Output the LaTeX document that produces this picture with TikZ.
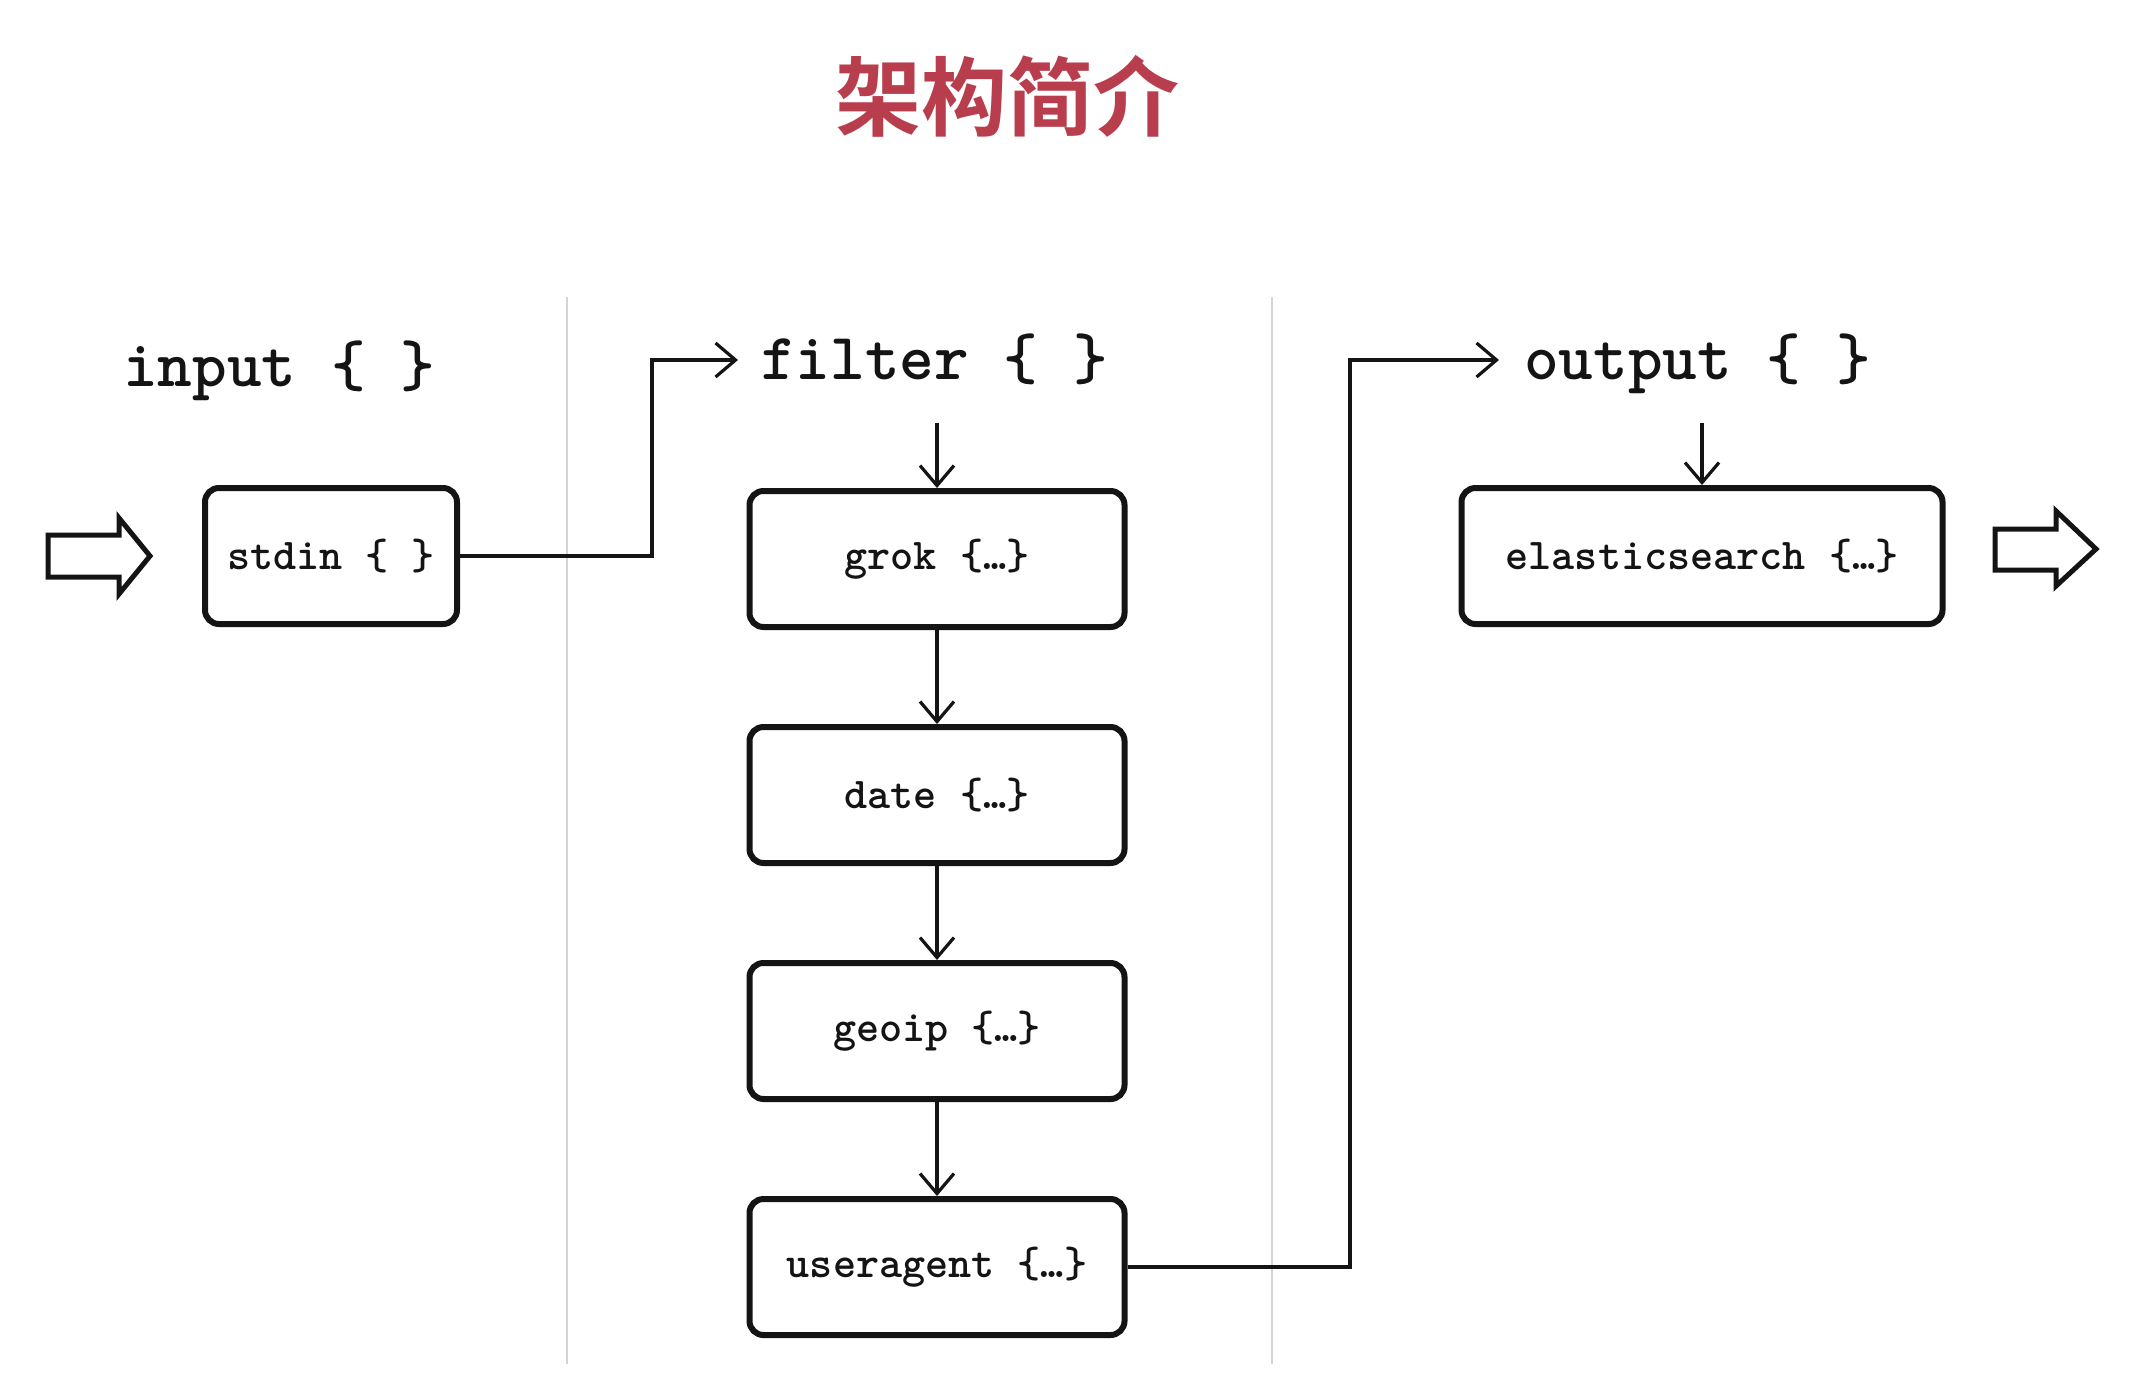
\documentclass[tikz,border=0pt]{standalone}
\usepackage{fontspec}
\newfontfamily\cjk[BoldFont={Noto Sans CJK SC Bold}]{Noto Sans CJK SC}
\usetikzlibrary{arrows.meta}
\definecolor{titlered}{RGB}{184,62,78}
\definecolor{ink}{RGB}{20,20,20}
\definecolor{divider}{RGB}{212,212,212}
\begin{document}
\begin{tikzpicture}[x=1pt,y=-1pt,
  stagebox/.style={draw=ink,line width=6pt,rounded corners=14pt,minimum height=136pt,
    inner sep=0pt,font=\ttfamily\bfseries\fontsize{44}{50}\selectfont,text=ink},
  head/.style={anchor=base west,inner sep=0pt,font=\ttfamily\bfseries\fontsize{66}{72}\selectfont,text=ink},
  conn/.style={draw=ink,line width=3.2pt,-{Straight Barb[length=20pt,width=34pt,line width=3.2pt]}},
  blockarrow/.style={draw=ink,line width=5pt,line join=miter,fill=white},
  sep/.style={draw=divider,line width=2pt}]
\useasboundingbox[fill=white] (0,0) rectangle (2138,1388);

% title
\node[font=\cjk\bfseries\fontsize{86}{90}\selectfont,text=titlered] (title) at (1007,96) {架构简介};

% dividers
\draw[sep] (567,297) -- (567,1364);
\draw[sep] (1272,297) -- (1272,1364);

% headers
\node[head] (inhead) at (123,386) {input \{ \}};
\node[head] (filthead) at (761,379) {filter \{ \}};
\node[head] (outhead) at (1524,379) {output \{ \}};

% boxes
\node[stagebox,minimum width=252pt] (stdin) at (331,556) {stdin \{ \}};
\node[stagebox,minimum width=375pt] (grok) at (937,559) {grok \{…\}};
\node[stagebox,minimum width=375pt] (date) at (937,795) {date \{…\}};
\node[stagebox,minimum width=375pt] (geoip) at (937,1031) {geoip \{…\}};
\node[stagebox,minimum width=375pt] (useragent) at (937,1267) {useragent \{…\}};
\node[stagebox,minimum width=481pt] (elastic) at (1702,556) {elasticsearch \{…\}};

% block arrows
\draw[blockarrow] (48,535) -- (119,535) -- (119,518) -- (150,556) -- (119,594) -- (119,577) -- (48,577) -- cycle;
\draw[blockarrow] (1995,529) -- (2056,529) -- (2056,511) -- (2096,549) -- (2056,586) -- (2056,570) -- (1995,570) -- cycle;

% connector coordinates
\coordinate (jog1) at (652,360);
\coordinate (fin) at (738,360);
\coordinate (jog2) at (1350,360);
\coordinate (outin) at (1499,360);
\coordinate (ftop) at (937,423);
\coordinate (otop) at (1702,423);

% connectors
\draw[conn] (stdin.east) -| (jog1) -- (fin);
\draw[conn] (ftop) -- (grok.north);
\draw[conn] (grok.south) -- (date.north);
\draw[conn] (date.south) -- (geoip.north);
\draw[conn] (geoip.south) -- (useragent.north);
\draw[conn] (useragent.east) -| (jog2) -- (outin);
\draw[conn] (otop) -- (elastic.north);
\end{tikzpicture}
\end{document}
